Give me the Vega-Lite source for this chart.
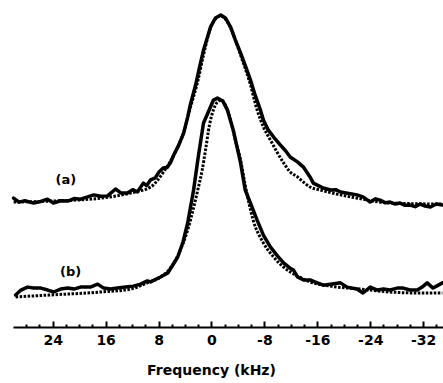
{
  "$schema": "https://vega.github.io/schema/vega-lite/v6.json",
  "width": 430,
  "height": 327,
  "autosize": {"type": "none"},
  "padding": {"left": 13, "top": 0, "right": 0, "bottom": 56},
  "background": "white",
  "config": {"view": {"stroke": null}, "font": "DejaVu Sans"},
  "datasets": {
    "curves": [
      {"series": "a", "kind": "exp", "f": 29.9, "v": 39.4},
      {"series": "a", "kind": "exp", "f": 29.1, "v": 38.2},
      {"series": "a", "kind": "exp", "f": 28.2, "v": 38.6},
      {"series": "a", "kind": "exp", "f": 26.9, "v": 37.9},
      {"series": "a", "kind": "exp", "f": 25.8, "v": 38.4},
      {"series": "a", "kind": "exp", "f": 24.8, "v": 39.1},
      {"series": "a", "kind": "exp", "f": 23.9, "v": 37.9},
      {"series": "a", "kind": "exp", "f": 22.8, "v": 38.6},
      {"series": "a", "kind": "exp", "f": 21.7, "v": 38.5},
      {"series": "a", "kind": "exp", "f": 20.7, "v": 39.3},
      {"series": "a", "kind": "exp", "f": 19.8, "v": 39.1},
      {"series": "a", "kind": "exp", "f": 18.7, "v": 39.8},
      {"series": "a", "kind": "exp", "f": 17.8, "v": 40.4},
      {"series": "a", "kind": "exp", "f": 16.7, "v": 40.0},
      {"series": "a", "kind": "exp", "f": 15.7, "v": 40.1},
      {"series": "a", "kind": "exp", "f": 14.5, "v": 42.2},
      {"series": "a", "kind": "exp", "f": 13.7, "v": 41.0},
      {"series": "a", "kind": "exp", "f": 12.7, "v": 41.0},
      {"series": "a", "kind": "exp", "f": 11.9, "v": 42.0},
      {"series": "a", "kind": "exp", "f": 11.2, "v": 41.3},
      {"series": "a", "kind": "exp", "f": 10.3, "v": 44.0},
      {"series": "a", "kind": "exp", "f": 9.8, "v": 43.2},
      {"series": "a", "kind": "exp", "f": 9.2, "v": 45.0},
      {"series": "a", "kind": "exp", "f": 8.5, "v": 45.6},
      {"series": "a", "kind": "exp", "f": 7.9, "v": 47.5},
      {"series": "a", "kind": "exp", "f": 7.3, "v": 48.6},
      {"series": "a", "kind": "exp", "f": 6.7, "v": 48.8},
      {"series": "a", "kind": "exp", "f": 6.2, "v": 50.2},
      {"series": "a", "kind": "exp", "f": 5.7, "v": 52.6},
      {"series": "a", "kind": "exp", "f": 5.0, "v": 55.4},
      {"series": "a", "kind": "exp", "f": 4.2, "v": 59.3},
      {"series": "a", "kind": "exp", "f": 3.6, "v": 64.2},
      {"series": "a", "kind": "exp", "f": 3.2, "v": 67.9},
      {"series": "a", "kind": "exp", "f": 2.4, "v": 74.0},
      {"series": "a", "kind": "exp", "f": 1.8, "v": 79.5},
      {"series": "a", "kind": "exp", "f": 1.2, "v": 84.7},
      {"series": "a", "kind": "exp", "f": 0.15, "v": 91.7},
      {"series": "a", "kind": "exp", "f": -0.6, "v": 94.5},
      {"series": "a", "kind": "exp", "f": -1.4, "v": 95.4},
      {"series": "a", "kind": "exp", "f": -2.1, "v": 94.5},
      {"series": "a", "kind": "exp", "f": -2.9, "v": 91.7},
      {"series": "a", "kind": "exp", "f": -3.6, "v": 87.8},
      {"series": "a", "kind": "exp", "f": -4.4, "v": 83.8},
      {"series": "a", "kind": "exp", "f": -5.2, "v": 79.5},
      {"series": "a", "kind": "exp", "f": -5.9, "v": 75.5},
      {"series": "a", "kind": "exp", "f": -6.6, "v": 70.9},
      {"series": "a", "kind": "exp", "f": -7.4, "v": 66.4},
      {"series": "a", "kind": "exp", "f": -7.85, "v": 63.3},
      {"series": "a", "kind": "exp", "f": -8.6, "v": 60.2},
      {"series": "a", "kind": "exp", "f": -9.4, "v": 58.1},
      {"series": "a", "kind": "exp", "f": -10.4, "v": 55.7},
      {"series": "a", "kind": "exp", "f": -11.2, "v": 53.9},
      {"series": "a", "kind": "exp", "f": -11.9, "v": 52.0},
      {"series": "a", "kind": "exp", "f": -13.0, "v": 50.5},
      {"series": "a", "kind": "exp", "f": -13.9, "v": 48.9},
      {"series": "a", "kind": "exp", "f": -14.9, "v": 45.9},
      {"series": "a", "kind": "exp", "f": -15.4, "v": 44.0},
      {"series": "a", "kind": "exp", "f": -16.0, "v": 43.4},
      {"series": "a", "kind": "exp", "f": -16.9, "v": 42.5},
      {"series": "a", "kind": "exp", "f": -18.0, "v": 41.9},
      {"series": "a", "kind": "exp", "f": -18.8, "v": 42.0},
      {"series": "a", "kind": "exp", "f": -19.5, "v": 41.3},
      {"series": "a", "kind": "exp", "f": -20.8, "v": 40.8},
      {"series": "a", "kind": "exp", "f": -22.0, "v": 40.4},
      {"series": "a", "kind": "exp", "f": -22.9, "v": 39.8},
      {"series": "a", "kind": "exp", "f": -24.0, "v": 38.2},
      {"series": "a", "kind": "exp", "f": -24.8, "v": 39.2},
      {"series": "a", "kind": "exp", "f": -25.5, "v": 38.8},
      {"series": "a", "kind": "exp", "f": -26.3, "v": 38.0},
      {"series": "a", "kind": "exp", "f": -27.0, "v": 38.2},
      {"series": "a", "kind": "exp", "f": -27.8, "v": 37.6},
      {"series": "a", "kind": "exp", "f": -28.5, "v": 37.9},
      {"series": "a", "kind": "exp", "f": -29.3, "v": 37.2},
      {"series": "a", "kind": "exp", "f": -30.0, "v": 37.3},
      {"series": "a", "kind": "exp", "f": -30.8, "v": 36.8},
      {"series": "a", "kind": "exp", "f": -31.55, "v": 37.6},
      {"series": "a", "kind": "exp", "f": -32.3, "v": 37.0},
      {"series": "a", "kind": "exp", "f": -33.1, "v": 36.7},
      {"series": "a", "kind": "exp", "f": -34.0, "v": 37.6},
      {"series": "a", "kind": "exp", "f": -34.9, "v": 37.3},

      {"series": "a", "kind": "fit", "f": 29.9, "v": 38.2},
      {"series": "a", "kind": "fit", "f": 24.3, "v": 38.5},
      {"series": "a", "kind": "fit", "f": 16.75, "v": 39.4},
      {"series": "a", "kind": "fit", "f": 12.2, "v": 41.0},
      {"series": "a", "kind": "fit", "f": 9.2, "v": 42.8},
      {"series": "a", "kind": "fit", "f": 7.25, "v": 47.4},
      {"series": "a", "kind": "fit", "f": 5.7, "v": 52.6},
      {"series": "a", "kind": "fit", "f": 4.2, "v": 59.6},
      {"series": "a", "kind": "fit", "f": 3.2, "v": 67.0},
      {"series": "a", "kind": "fit", "f": 2.1, "v": 74.9},
      {"series": "a", "kind": "fit", "f": 1.2, "v": 83.2},
      {"series": "a", "kind": "fit", "f": 0.15, "v": 91.4},
      {"series": "a", "kind": "fit", "f": -0.6, "v": 94.2},
      {"series": "a", "kind": "fit", "f": -1.4, "v": 95.1},
      {"series": "a", "kind": "fit", "f": -2.1, "v": 94.2},
      {"series": "a", "kind": "fit", "f": -2.9, "v": 91.4},
      {"series": "a", "kind": "fit", "f": -4.4, "v": 83.2},
      {"series": "a", "kind": "fit", "f": -5.9, "v": 74.0},
      {"series": "a", "kind": "fit", "f": -6.9, "v": 66.4},
      {"series": "a", "kind": "fit", "f": -7.85, "v": 61.2},
      {"series": "a", "kind": "fit", "f": -8.9, "v": 57.2},
      {"series": "a", "kind": "fit", "f": -10.9, "v": 50.2},
      {"series": "a", "kind": "fit", "f": -11.9, "v": 47.4},
      {"series": "a", "kind": "fit", "f": -13.0, "v": 45.9},
      {"series": "a", "kind": "fit", "f": -13.9, "v": 44.3},
      {"series": "a", "kind": "fit", "f": -14.9, "v": 42.8},
      {"series": "a", "kind": "fit", "f": -16.45, "v": 41.9},
      {"series": "a", "kind": "fit", "f": -19.5, "v": 40.4},
      {"series": "a", "kind": "fit", "f": -22.0, "v": 39.4},
      {"series": "a", "kind": "fit", "f": -27.0, "v": 37.9},
      {"series": "a", "kind": "fit", "f": -34.9, "v": 37.6},

      {"series": "b", "kind": "exp", "f": 29.6, "v": 9.8},
      {"series": "b", "kind": "exp", "f": 28.8, "v": 11.3},
      {"series": "b", "kind": "exp", "f": 27.8, "v": 12.2},
      {"series": "b", "kind": "exp", "f": 26.9, "v": 11.9},
      {"series": "b", "kind": "exp", "f": 25.8, "v": 11.9},
      {"series": "b", "kind": "exp", "f": 24.75, "v": 11.3},
      {"series": "b", "kind": "exp", "f": 23.85, "v": 10.7},
      {"series": "b", "kind": "exp", "f": 22.8, "v": 11.6},
      {"series": "b", "kind": "exp", "f": 21.7, "v": 11.9},
      {"series": "b", "kind": "exp", "f": 20.8, "v": 11.6},
      {"series": "b", "kind": "exp", "f": 19.8, "v": 12.2},
      {"series": "b", "kind": "exp", "f": 18.3, "v": 12.2},
      {"series": "b", "kind": "exp", "f": 17.2, "v": 13.1},
      {"series": "b", "kind": "exp", "f": 16.3, "v": 11.9},
      {"series": "b", "kind": "exp", "f": 15.25, "v": 11.6},
      {"series": "b", "kind": "exp", "f": 14.2, "v": 11.9},
      {"series": "b", "kind": "exp", "f": 13.0, "v": 12.2},
      {"series": "b", "kind": "exp", "f": 11.8, "v": 12.5},
      {"series": "b", "kind": "exp", "f": 10.7, "v": 13.1},
      {"series": "b", "kind": "exp", "f": 9.7, "v": 14.1},
      {"series": "b", "kind": "exp", "f": 9.2, "v": 13.8},
      {"series": "b", "kind": "exp", "f": 7.7, "v": 15.3},
      {"series": "b", "kind": "exp", "f": 6.6, "v": 16.5},
      {"series": "b", "kind": "exp", "f": 5.1, "v": 21.4},
      {"series": "b", "kind": "exp", "f": 4.3, "v": 26.0},
      {"series": "b", "kind": "exp", "f": 3.6, "v": 31.8},
      {"series": "b", "kind": "exp", "f": 2.7, "v": 41.9},
      {"series": "b", "kind": "exp", "f": 2.0, "v": 52.0},
      {"series": "b", "kind": "exp", "f": 1.2, "v": 62.4},
      {"series": "b", "kind": "exp", "f": 0.15, "v": 67.3},
      {"series": "b", "kind": "exp", "f": -0.3, "v": 69.4},
      {"series": "b", "kind": "exp", "f": -0.9, "v": 70.0},
      {"series": "b", "kind": "exp", "f": -1.7, "v": 69.1},
      {"series": "b", "kind": "exp", "f": -2.4, "v": 66.4},
      {"series": "b", "kind": "exp", "f": -3.3, "v": 60.2},
      {"series": "b", "kind": "exp", "f": -4.4, "v": 50.2},
      {"series": "b", "kind": "exp", "f": -5.1, "v": 41.9},
      {"series": "b", "kind": "exp", "f": -5.9, "v": 37.9},
      {"series": "b", "kind": "exp", "f": -6.9, "v": 32.7},
      {"series": "b", "kind": "exp", "f": -7.85, "v": 28.1},
      {"series": "b", "kind": "exp", "f": -8.9, "v": 24.5},
      {"series": "b", "kind": "exp", "f": -10.0, "v": 21.7},
      {"series": "b", "kind": "exp", "f": -10.9, "v": 19.6},
      {"series": "b", "kind": "exp", "f": -11.9, "v": 18.0},
      {"series": "b", "kind": "exp", "f": -12.4, "v": 17.4},
      {"series": "b", "kind": "exp", "f": -13.0, "v": 15.3},
      {"series": "b", "kind": "exp", "f": -13.9, "v": 14.4},
      {"series": "b", "kind": "exp", "f": -14.9, "v": 14.4},
      {"series": "b", "kind": "exp", "f": -16.0, "v": 13.5},
      {"series": "b", "kind": "exp", "f": -16.9, "v": 12.8},
      {"series": "b", "kind": "exp", "f": -18.0, "v": 13.1},
      {"series": "b", "kind": "exp", "f": -19.5, "v": 13.5},
      {"series": "b", "kind": "exp", "f": -20.5, "v": 12.2},
      {"series": "b", "kind": "exp", "f": -22.0, "v": 11.6},
      {"series": "b", "kind": "exp", "f": -22.9, "v": 10.4},
      {"series": "b", "kind": "exp", "f": -24.0, "v": 12.2},
      {"series": "b", "kind": "exp", "f": -25.1, "v": 11.3},
      {"series": "b", "kind": "exp", "f": -26.0, "v": 11.6},
      {"series": "b", "kind": "exp", "f": -27.0, "v": 11.3},
      {"series": "b", "kind": "exp", "f": -28.1, "v": 11.9},
      {"series": "b", "kind": "exp", "f": -29.0, "v": 11.9},
      {"series": "b", "kind": "exp", "f": -30.0, "v": 11.3},
      {"series": "b", "kind": "exp", "f": -31.1, "v": 11.3},
      {"series": "b", "kind": "exp", "f": -31.85, "v": 12.2},
      {"series": "b", "kind": "exp", "f": -32.6, "v": 13.5},
      {"series": "b", "kind": "exp", "f": -33.5, "v": 11.9},
      {"series": "b", "kind": "exp", "f": -34.3, "v": 12.8},
      {"series": "b", "kind": "exp", "f": -34.9, "v": 13.5},

      {"series": "b", "kind": "fit", "f": 29.6, "v": 9.2},
      {"series": "b", "kind": "fit", "f": 24.3, "v": 9.8},
      {"series": "b", "kind": "fit", "f": 16.75, "v": 10.7},
      {"series": "b", "kind": "fit", "f": 12.2, "v": 11.6},
      {"series": "b", "kind": "fit", "f": 9.7, "v": 13.5},
      {"series": "b", "kind": "fit", "f": 7.7, "v": 15.3},
      {"series": "b", "kind": "fit", "f": 6.2, "v": 18.0},
      {"series": "b", "kind": "fit", "f": 4.7, "v": 23.5},
      {"series": "b", "kind": "fit", "f": 3.5, "v": 30.3},
      {"series": "b", "kind": "fit", "f": 2.6, "v": 37.3},
      {"series": "b", "kind": "fit", "f": 2.0, "v": 42.5},
      {"series": "b", "kind": "fit", "f": 1.4, "v": 48.0},
      {"series": "b", "kind": "fit", "f": 0.9, "v": 54.1},
      {"series": "b", "kind": "fit", "f": 0.3, "v": 61.8},
      {"series": "b", "kind": "fit", "f": -0.3, "v": 66.4},
      {"series": "b", "kind": "fit", "f": -0.9, "v": 68.8},
      {"series": "b", "kind": "fit", "f": -1.5, "v": 69.4},
      {"series": "b", "kind": "fit", "f": -2.1, "v": 67.9},
      {"series": "b", "kind": "fit", "f": -2.9, "v": 63.3},
      {"series": "b", "kind": "fit", "f": -3.6, "v": 57.2},
      {"series": "b", "kind": "fit", "f": -4.4, "v": 51.1},
      {"series": "b", "kind": "fit", "f": -5.1, "v": 43.4},
      {"series": "b", "kind": "fit", "f": -6.3, "v": 32.7},
      {"series": "b", "kind": "fit", "f": -7.85, "v": 25.7},
      {"series": "b", "kind": "fit", "f": -9.4, "v": 21.4},
      {"series": "b", "kind": "fit", "f": -10.9, "v": 18.3},
      {"series": "b", "kind": "fit", "f": -13.0, "v": 15.6},
      {"series": "b", "kind": "fit", "f": -14.9, "v": 13.8},
      {"series": "b", "kind": "fit", "f": -18.0, "v": 12.5},
      {"series": "b", "kind": "fit", "f": -22.5, "v": 11.6},
      {"series": "b", "kind": "fit", "f": -27.0, "v": 10.7},
      {"series": "b", "kind": "fit", "f": -31.55, "v": 10.4},
      {"series": "b", "kind": "fit", "f": -34.9, "v": 10.4}
    ],
    "labels": [
      {"label": "(a)", "f": 22.0, "v": 45.0},
      {"label": "(b)", "f": 21.3, "v": 16.8}
    ]
  },
  "resolve": {"axis": {"x": "independent"}},
  "layer": [
    {
      "data": {"name": "curves"},
      "transform": [{"filter": "datum.kind === 'exp'"}],
      "mark": {"type": "line", "color": "black", "strokeWidth": 3.5, "strokeJoin": "round", "strokeCap": "round"},
      "encoding": {
        "x": {
          "field": "f", "type": "quantitative",
          "scale": {"domain": [30, -35], "nice": false, "zero": false},
          "axis": {
            "orient": "bottom",
            "values": [24, 16, 8, 0, -8, -16, -24, -32],
            "labelExpr": "'' + datum.value",
            "tickSize": -6, "tickWidth": 2, "tickColor": "black",
            "domain": true, "domainColor": "black", "domainWidth": 2,
            "grid": false,
            "labelFont": "DejaVu Sans", "labelFontWeight": "bold", "labelFontSize": 14, "labelColor": "black",
            "labelPadding": 12,
            "title": "Frequency (kHz)",
            "titleFont": "DejaVu Sans", "titleFontWeight": "bold", "titleFontSize": 14, "titleColor": "black",
            "titlePadding": 16,
            "titleX": 198
          }
        },
        "y": {"field": "v", "type": "quantitative", "scale": {"domain": [0, 100], "nice": false}, "axis": null},
        "detail": {"field": "series"}
      }
    },
    {
      "data": {"name": "curves"},
      "transform": [{"filter": "datum.kind === 'fit'"}],
      "mark": {"type": "line", "color": "black", "strokeWidth": 3, "strokeDash": [2.5, 1.5], "interpolate": "monotone"},
      "encoding": {
        "x": {
          "field": "f", "type": "quantitative",
          "axis": {
            "orient": "bottom",
            "values": [28, 26, 22, 20, 18, 14, 12, 10, 6, 4, 2, -2, -4, -6, -10, -12, -14, -18, -20, -22, -26, -28, -30, -34],
            "tickSize": -3, "tickWidth": 2, "tickColor": "black",
            "domain": false, "labels": false, "grid": false, "title": null
          }
        },
        "y": {"field": "v", "type": "quantitative"},
        "detail": {"field": "series"}
      }
    },
    {
      "data": {"name": "labels"},
      "mark": {"type": "text", "font": "DejaVu Sans", "fontWeight": "bold", "fontSize": 13, "color": "black"},
      "encoding": {
        "x": {"field": "f", "type": "quantitative", "axis": null},
        "y": {"field": "v", "type": "quantitative"},
        "text": {"field": "label"}
      }
    }
  ]
}
